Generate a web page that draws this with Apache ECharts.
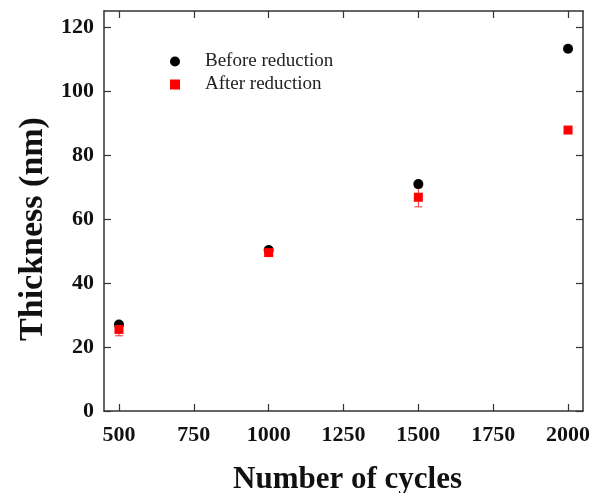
<!DOCTYPE html>
<html>
<head>
<meta charset="utf-8">
<script src="https://cdn.jsdelivr.net/npm/echarts@6/dist/echarts.min.js"></script>
<style>
  html, body { margin: 0; padding: 0; background: #fff; }
</style>
</head>
<body>
<div id="main" style="width: 609px; height: 493px"></div>
<script>
// data
var cycles = [500, 1000, 1500, 2000];
var before = [27.0, 50.3, 70.9, 113.2];
var beforeErr = [0.8, 0.8, 0.8, 0.9];
var after = [25.5, 49.5, 66.8, 87.8];
var afterErr = [2.0, 0.6, 3.0, 0.5];
var xTicks = [500, 750, 1000, 1250, 1500, 1750, 2000];
var yTicks = [0, 20, 40, 60, 80, 100, 120];

var font = 'Liberation Serif';

function errData(vals, errs) {
  return cycles.map(function (c, i) {
    return [c, vals[i] - errs[i], vals[i] + errs[i]];
  });
}

function errRender(color) {
  return function (params, api) {
    var x = api.value(0);
    var lo = api.coord([x, api.value(1)]);
    var hi = api.coord([x, api.value(2)]);
    var w = 4;
    var style = { stroke: color, lineWidth: 1 };
    return {
      type: 'group',
      children: [
        { type: 'line', shape: { x1: lo[0], y1: lo[1], x2: hi[0], y2: hi[1] }, style: style },
        { type: 'line', shape: { x1: lo[0] - w, y1: lo[1], x2: lo[0] + w, y2: lo[1] }, style: style },
        { type: 'line', shape: { x1: hi[0] - w, y1: hi[1], x2: hi[0] + w, y2: hi[1] }, style: style }
      ]
    };
  };
}

var axisLine = { show: true, onZero: false, lineStyle: { color: '#333', width: 1.5 } };
var tick = { show: true, inside: true, length: 7, lineStyle: { color: '#333', width: 1.2 } };
var labelStyle = { fontFamily: font, fontSize: 22, fontWeight: 'bold', color: '#111' };
var nameStyle = { fontFamily: font, fontWeight: 'bold', color: '#111' };

var chart = echarts.init(document.getElementById('main'));
chart.setOption({
  animation: false,
  backgroundColor: '#fff',
  grid: { left: 104, right: 26, top: 11, bottom: 82, outerBoundsMode: 'none', containLabel: false },
  legend: {
    orient: 'vertical',
    left: 165,
    top: 47,
    itemWidth: 10,
    itemHeight: 10,
    itemGap: 4,
    data: [
      { name: 'Before reduction', icon: 'circle' },
      { name: 'After reduction', icon: 'rect' }
    ],
    textStyle: { fontFamily: font, fontSize: 19, color: '#222', padding: [0, 0, 0, 20] }
  },
  xAxis: [{
    type: 'value',
    min: 450,
    max: 2050,
    name: 'Number of cycles',
    nameLocation: 'middle',
    nameGap: 53,
    nameTextStyle: Object.assign({ fontSize: 31, padding: [0, 0, 0, 8] }, nameStyle),
    axisLine: axisLine,
    axisTick: Object.assign({}, tick, { customValues: xTicks }),
    splitLine: { show: false },
    axisLabel: Object.assign({
      margin: 13,
      customValues: xTicks,
      formatter: function (v) { return String(v); }
    }, labelStyle)
  }, {
    type: 'value',
    position: 'top',
    min: 450,
    max: 2050,
    axisLine: axisLine,
    axisTick: Object.assign({}, tick, { customValues: xTicks }),
    axisLabel: { show: false },
    splitLine: { show: false }
  }],
  yAxis: [{
    type: 'value',
    min: 0,
    max: 125,
    name: 'Thickness (nm)',
    nameLocation: 'middle',
    nameGap: 51,
    nameTextStyle: Object.assign({ fontSize: 34, padding: [0, 36, 0, 0] }, nameStyle),
    axisLine: axisLine,
    axisTick: Object.assign({}, tick, { customValues: yTicks }),
    splitLine: { show: false },
    axisLabel: Object.assign({ margin: 10, customValues: yTicks }, labelStyle)
  }, {
    type: 'value',
    position: 'right',
    min: 0,
    max: 125,
    axisLine: axisLine,
    axisTick: Object.assign({}, tick, { customValues: yTicks }),
    axisLabel: { show: false },
    splitLine: { show: false }
  }],
  series: [{
    name: 'Before reduction',
    type: 'scatter',
    symbol: 'circle',
    symbolSize: 10,
    itemStyle: { color: '#000', opacity: 1 },
    data: cycles.map(function (c, i) { return [c, before[i]]; }),
    z: 3
  }, {
    name: 'After reduction',
    type: 'scatter',
    symbol: 'rect',
    symbolSize: 9,
    itemStyle: { color: '#f00', opacity: 1 },
    data: cycles.map(function (c, i) { return [c, after[i]]; }),
    z: 4
  }, {
    type: 'custom',
    renderItem: errRender('#bbb'),
    data: errData(before, beforeErr),
    encode: { x: 0, y: [1, 2] },
    z: 2
  }, {
    type: 'custom',
    renderItem: errRender('#e33'),
    data: errData(after, afterErr),
    encode: { x: 0, y: [1, 2] },
    z: 2
  }]
});
</script>
</body>
</html>
